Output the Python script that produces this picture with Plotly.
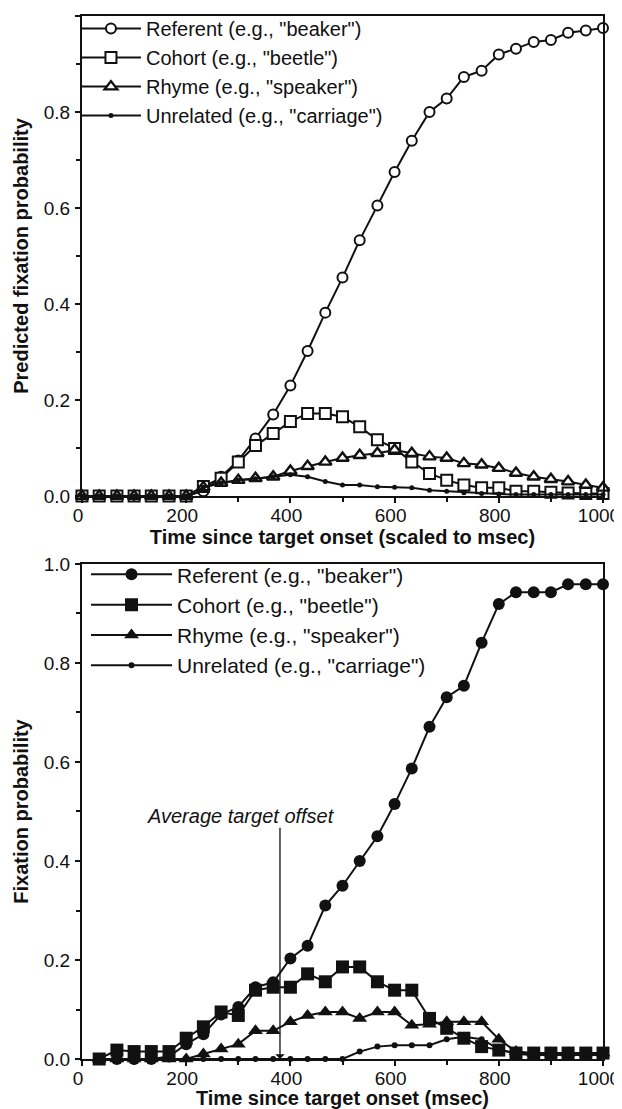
import plotly.graph_objects as go

# ---------------- data ----------------
t_top = [0, 33, 67, 100, 133, 167, 200, 233, 267, 300, 333, 367, 400, 433, 467, 500,
         533, 567, 600, 633, 667, 700, 733, 767, 800, 833, 867, 900, 933, 967, 1000]
ref_top = [0, 0, 0, 0, 0, 0, 0, 0.01, 0.04, 0.074, 0.12, 0.17, 0.23, 0.302, 0.382, 0.455,
           0.533, 0.605, 0.675, 0.74, 0.80, 0.828, 0.873, 0.886, 0.92, 0.932, 0.946, 0.95,
           0.965, 0.97, 0.975]
coh_top = [0, 0, 0, 0, 0, 0, 0, 0.02, 0.037, 0.071, 0.105, 0.13, 0.155, 0.172, 0.172, 0.165,
           0.144, 0.117, 0.099, 0.071, 0.047, 0.033, 0.023, 0.017, 0.017, 0.01, 0.01, 0.008,
           0.006, 0.005, 0.005]
rhy_top = [0, 0, 0, 0, 0, 0, 0, 0.018, 0.027, 0.033, 0.037, 0.04, 0.052, 0.062, 0.071, 0.079,
           0.085, 0.089, 0.096, 0.089, 0.082, 0.079, 0.068, 0.065, 0.058, 0.048, 0.04, 0.035,
           0.03, 0.023, 0.017]
unr_top = [0, 0, 0, 0, 0, 0, 0, 0.018, 0.027, 0.033, 0.036, 0.04, 0.044, 0.04, 0.03, 0.023,
           0.023, 0.019, 0.018, 0.017, 0.012, 0.01, 0.007, 0.005, 0.004, 0.003, 0.003, 0.003,
           0.003, 0.003, 0.003]

t_bot = [33, 67, 100, 133, 167, 200, 233, 267, 300, 333, 367, 400, 433, 467, 500,
         533, 567, 600, 633, 667, 700, 733, 767, 800, 833, 867, 900, 933, 967, 1000]
ref_bot = [0, 0, 0, 0, 0.005, 0.03, 0.05, 0.09, 0.105, 0.145, 0.155, 0.203, 0.229, 0.31, 0.35,
           0.40, 0.45, 0.515, 0.587, 0.671, 0.731, 0.754, 0.841, 0.919, 0.943, 0.943, 0.943,
           0.959, 0.959, 0.959]
coh_bot = [0, 0.018, 0.015, 0.015, 0.015, 0.042, 0.065, 0.095, 0.088, 0.139, 0.145, 0.145,
           0.172, 0.156, 0.186, 0.186, 0.156, 0.139, 0.139, 0.082, 0.062, 0.042, 0.025, 0.018,
           0.012, 0.012, 0.012, 0.012, 0.012, 0.012]
rhy_bot = [0, 0, 0, 0, 0, 0, 0.01, 0.02, 0.03, 0.057, 0.057, 0.075, 0.088, 0.095, 0.095,
           0.082, 0.095, 0.095, 0.068, 0.07, 0.075, 0.075, 0.075, 0.04, 0.015, 0.012, 0.012,
           0.012, 0.012, 0.012]
unr_bot = [0, 0, 0, 0, 0, 0, 0, 0, 0, 0, 0, 0, 0, 0, 0,
           0.015, 0.025, 0.028, 0.028, 0.028, 0.04, 0.045, 0.04, 0.02, 0.01, 0.008, 0.008,
           0.008, 0.008, 0.008]

names = ['Referent (e.g., "beaker")', 'Cohort (e.g., "beetle")',
         'Rhyme (e.g., "speaker")', 'Unrelated (e.g., "carriage")']
x_ticks = [0, 200, 400, 600, 800, 1000]
y_ticks = [0.0, 0.2, 0.4, 0.6, 0.8, 1.0]
offset_ms = 380
offset_label = "Average target offset"

FONT = "Liberation Sans, Arial, sans-serif"
BLACK = "#111111"

fig = go.Figure()

top_series = [ref_top, coh_top, rhy_top, unr_top]
top_styles = [
    dict(symbol="circle", size=10, color="white", line=dict(width=2, color=BLACK)),
    dict(symbol="square", size=11, color="white", line=dict(width=2, color=BLACK)),
    dict(symbol="triangle-up", size=11, color="white", line=dict(width=2.4, color=BLACK)),
    dict(symbol="circle", size=5, color=BLACK),
]
for i in range(4):
    fig.add_trace(go.Scatter(
        x=t_top, y=top_series[i], name=names[i], mode="lines+markers",
        line=dict(color=BLACK, width=2), marker=top_styles[i],
        xaxis="x", yaxis="y", legend="legend",
        legendrank=i + 1, cliponaxis=False))

bot_series = [ref_bot, coh_bot, rhy_bot, unr_bot]
bot_styles = [
    dict(symbol="circle", size=12, color=BLACK),
    dict(symbol="square", size=13, color=BLACK),
    dict(symbol="triangle-up", size=13, color=BLACK),
    dict(symbol="circle", size=6, color=BLACK),
]
for i in range(4):
    fig.add_trace(go.Scatter(
        x=t_bot, y=bot_series[i], name=names[i], mode="lines+markers",
        line=dict(color=BLACK, width=2), marker=bot_styles[i],
        xaxis="x2", yaxis="y2", legend="legend2",
        legendrank=i + 1, cliponaxis=False))

axis_common = dict(
    showline=True, linecolor=BLACK, linewidth=2, mirror=True, showgrid=False,
    zeroline=False, ticks="outside", ticklen=5, tickwidth=1.5, tickcolor=BLACK,
    tickfont=dict(family=FONT, size=19, color=BLACK),
)
minor_x = dict(dtick=100, tick0=0, ticks="outside", ticklen=4, tickcolor=BLACK)
minor_y = dict(dtick=0.1, tick0=0, ticks="outside", ticklen=4, tickcolor=BLACK)
title_font = dict(family=FONT, size=20, weight="bold", color=BLACK)

# the page body adds an 8px offset, so the figure is sized to end at the window edge
fig.update_layout(
    width=614, height=1101,
    margin=dict(l=74, r=19, t=8, b=50, autoexpand=False),
    paper_bgcolor="white", plot_bgcolor="white",
    font=dict(family=FONT, color=BLACK),
    xaxis=dict(domain=[0, 1], anchor="y", range=[0, 1000], tickvals=x_ticks,
               ticklabelshift=-4, ticklabelstandoff=-4, minor=minor_x,
               title=dict(text="Time since target onset (scaled to msec)", standoff=1,
                          font=title_font),
               **axis_common),
    yaxis=dict(domain=[0.5398, 1], anchor="x", range=[0, 1.0], tickvals=y_ticks,
               tickformat=".1f", ticklabelstandoff=1, minor=minor_y,
               title=dict(text="Predicted fixation probability", standoff=10,
                          font=title_font),
               **axis_common),
    xaxis2=dict(domain=[0, 1], anchor="y2", range=[0, 1000], tickvals=x_ticks,
                ticklabelshift=-4, ticklabelstandoff=-4, minor=minor_x,
                title=dict(text="Time since target onset (msec)", standoff=0,
                           font=title_font),
                **axis_common),
    yaxis2=dict(domain=[0, 0.4746], anchor="x2", range=[0, 1.0], tickvals=y_ticks,
                tickformat=".1f", ticklabelstandoff=1, minor=minor_y,
                title=dict(text="Fixation probability", standoff=10,
                           font=title_font),
                **axis_common),
    legend=dict(x=-0.0116, y=1.0066, xanchor="left", yanchor="top", bgcolor="rgba(0,0,0,0)",
                itemwidth=60, traceorder="normal",
                font=dict(family=FONT, size=20, color=BLACK)),
    legend2=dict(x=0.0077, y=0.484, xanchor="left", yanchor="top", bgcolor="rgba(0,0,0,0)",
                 itemwidth=81, traceorder="normal",
                 font=dict(family=FONT, size=21, color=BLACK)),
    showlegend=True,
)

fig.add_annotation(x=offset_ms, y=0.0, ax=offset_ms, ay=0.47, xref="x2", yref="y2",
                   axref="x2", ayref="y2", text="", showarrow=True, arrowhead=1,
                   arrowsize=1.2, arrowwidth=1.3, arrowcolor=BLACK)
fig.add_annotation(x=305, y=0.49, xref="x2", yref="y2", text="<i>%s</i>" % offset_label,
                   showarrow=False, font=dict(family=FONT, size=20, color=BLACK))

fig.write_html("out.html")
